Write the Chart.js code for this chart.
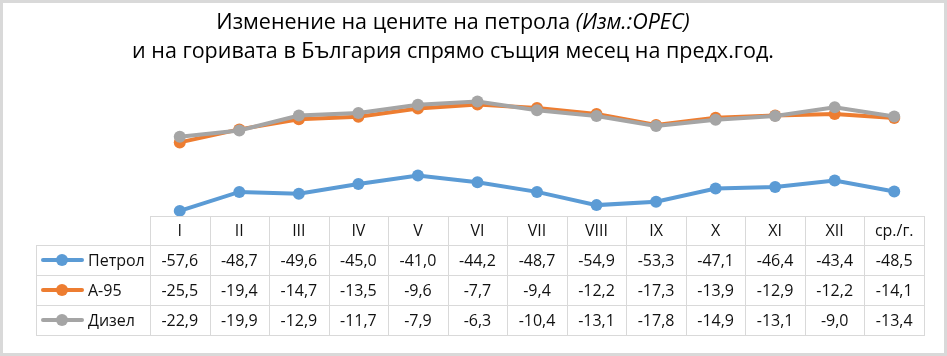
<!DOCTYPE html>
<html><head><meta charset="utf-8">
<script src="https://cdn.jsdelivr.net/npm/chart.js@4/dist/chart.umd.min.js"></script>
<style>html,body{margin:0;padding:0;background:#fff;overflow:hidden}canvas{display:block}</style>
</head><body>
<canvas id="c" width="947" height="356"></canvas>
<script>
const categories = ['I','II','III','IV','V','VI','VII','VIII','IX','X','XI','XII','ср./г.'];
const seriesNames = ['Петрол','А-95','Дизел'];
const petrol = [-57.6,-48.7,-49.6,-45.0,-41.0,-44.2,-48.7,-54.9,-53.3,-47.1,-46.4,-43.4,-48.5];
const a95    = [-25.5,-19.4,-14.7,-13.5,-9.6,-7.7,-9.4,-12.2,-17.3,-13.9,-12.9,-12.2,-14.1];
const diesel = [-22.9,-19.9,-12.9,-11.7,-7.9,-6.3,-10.4,-13.1,-17.8,-14.9,-13.1,-9.0,-13.4];
const titleLine1 = 'Изменение на цените на петрола ';
const titleLine1Italic = '(Изм.:OPEC)';
const titleLine2 = 'и на горивата в България спрямо същия месец на предх.год.';
const colors = ['#5B9BD5','#ED7D31','#A5A5A5'];
const seriesValues = [petrol, a95, diesel];

const FONT = '"Open Sans", "Liberation Sans", sans-serif';
const fmt = v => v.toFixed(1).replace('.', ',');

const framePlugin = {
  id: 'frame',
  beforeDraw(chart) {
    const ctx = chart.ctx, W = chart.width, H = chart.height;
    ctx.save();
    ctx.fillStyle = '#fff';
    ctx.fillRect(0, 0, W, H);
    ctx.strokeStyle = '#D9D9D9';
    ctx.lineWidth = 3;
    ctx.strokeRect(1.5, 1.5, W - 3, H - 3);
    ctx.restore();
  },
  afterDraw(chart) {
    const ctx = chart.ctx;
    const area = chart.chartArea;
    const xs = chart.scales.x;
    const n = categories.length;
    const left = area.left, right = area.right;
    const colW = (right - left) / n;
    const legendLeft = 36;
    const rowTops = [216, 245, 275, 305, 335];
    ctx.save();
    ctx.strokeStyle = '#D9D9D9';
    ctx.lineWidth = 1;
    ctx.beginPath();
    ctx.moveTo(left, rowTops[0] + 0.5); ctx.lineTo(right, rowTops[0] + 0.5);
    for (let r = 1; r < rowTops.length; r++) {
      ctx.moveTo(legendLeft, rowTops[r] + 0.5); ctx.lineTo(right, rowTops[r] + 0.5);
    }
    for (let i = 0; i <= n; i++) {
      const x = Math.round(left + i * colW) + 0.5;
      ctx.moveTo(x, rowTops[0]); ctx.lineTo(x, rowTops[4] + 1);
    }
    ctx.moveTo(legendLeft + 0.5, rowTops[1]); ctx.lineTo(legendLeft + 0.5, rowTops[4] + 1);
    ctx.stroke();

    ctx.fillStyle = '#111';
    ctx.textAlign = 'center';
    ctx.textBaseline = 'middle';
    ctx.font = '16px ' + FONT;
    for (let i = 0; i < n; i++) {
      const cx = xs.getPixelForValue(i);
      ctx.fillText(categories[i], cx, (rowTops[0] + rowTops[1]) / 2 + 1);
      for (let s = 0; s < seriesValues.length; s++) {
        ctx.fillText(fmt(seriesValues[s][i]), cx, (rowTops[s + 1] + rowTops[s + 2]) / 2 + 1);
      }
    }
    for (let s = 0; s < seriesNames.length; s++) {
      const cy = (rowTops[s + 1] + rowTops[s + 2]) / 2;
      ctx.strokeStyle = colors[s];
      ctx.lineWidth = 4;
      ctx.lineCap = 'round';
      ctx.beginPath(); ctx.moveTo(43, cy); ctx.lineTo(82, cy); ctx.stroke();
      ctx.fillStyle = colors[s];
      ctx.beginPath(); ctx.arc(62, cy, 6, 0, Math.PI * 2); ctx.fill();
      ctx.fillStyle = '#111';
      ctx.textAlign = 'left';
      ctx.fillText(seriesNames[s], 88, cy + 1);
    }

    ctx.fillStyle = '#000';
    ctx.textBaseline = 'alphabetic';
    ctx.textAlign = 'left';
    let size = 20;
    ctx.font = size + 'px ' + FONT;
    const w2base = ctx.measureText(titleLine2).width;
    size = size * 642 / w2base;
    ctx.font = size + 'px ' + FONT;
    const w1a = ctx.measureText(titleLine1).width;
    ctx.font = 'italic ' + size + 'px ' + FONT;
    const w1b = ctx.measureText(titleLine1Italic).width;
    const cx = 453;
    const x1 = cx - (w1a + w1b) / 2;
    ctx.font = size + 'px ' + FONT;
    ctx.fillText(titleLine1, x1, 29);
    ctx.font = 'italic ' + size + 'px ' + FONT;
    ctx.fillText(titleLine1Italic, x1 + w1a, 29);
    ctx.font = size + 'px ' + FONT;
    ctx.textAlign = 'center';
    ctx.fillText(titleLine2, cx, 58);
    ctx.restore();
  }
};

new Chart(document.getElementById('c'), {
  type: 'line',
  data: {
    labels: categories,
    datasets: seriesNames.map((name, s) => ({
      label: name,
      data: seriesValues[s],
      borderColor: colors[s],
      backgroundColor: colors[s],
      pointBackgroundColor: colors[s],
      pointBorderColor: colors[s],
      borderWidth: 4,
      pointRadius: 6,
      pointBorderWidth: 0,
      tension: 0,
      clip: false,
      order: 3 - s
    }))
  },
  options: {
    responsive: false,
    animation: false,
    devicePixelRatio: 1,
    layout: { padding: { left: 150, right: 23, top: 88, bottom: 140 } },
    plugins: { legend: { display: false }, title: { display: false }, tooltip: { enabled: false } },
    scales: {
      x: { type: 'category', offset: true, display: false },
      y: { min: -60, max: 0, display: false }
    }
  },
  plugins: [framePlugin]
});
</script>
</body></html>
